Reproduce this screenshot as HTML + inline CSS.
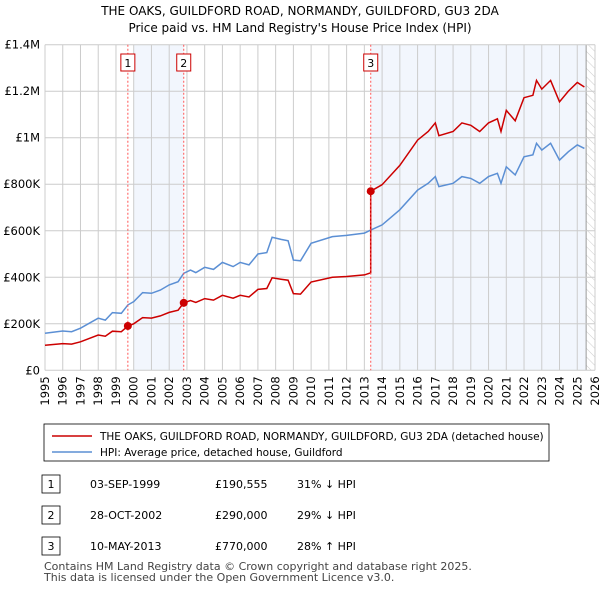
<!DOCTYPE html>
<html><head><meta charset="utf-8"><style>
body{margin:0;background:#fff;font-family:"Liberation Sans","DejaVu Sans",sans-serif;}
svg text{font-family:"DejaVu Sans","Liberation Sans",sans-serif;}
</style></head><body>
<svg id="c" width="600" height="590" xmlns="http://www.w3.org/2000/svg">
<defs><pattern id="hatch" width="6" height="6" patternUnits="userSpaceOnUse" patternTransform="rotate(-45)"><line x1="0" y1="0" x2="0" y2="6" stroke="#ccc" stroke-width="1"/></pattern></defs>
<text x="300" y="15" text-anchor="middle" font-size="12" fill="#000">THE OAKS, GUILDFORD ROAD, NORMANDY, GUILDFORD, GU3 2DA</text>
<text x="300" y="32" text-anchor="middle" font-size="12" fill="#000">Price paid vs. HM Land Registry's House Price Index (HPI)</text>
<g id="plot"></g>
<rect x="44" y="424" width="505" height="37" fill="#fff" stroke="#000" stroke-width="0.8"/>
<line x1="52" y1="436" x2="92" y2="436" stroke="#cc0000" stroke-width="1.5"/>
<text x="100" y="440" font-size="10.5">THE OAKS, GUILDFORD ROAD, NORMANDY, GUILDFORD, GU3 2DA (detached house)</text>
<line x1="52" y1="452" x2="92" y2="452" stroke="#5b8fd4" stroke-width="1.5"/>
<text x="100" y="456" font-size="10.5">HPI: Average price, detached house, Guildford</text>
<g font-size="11">
<rect x="42" y="475" width="18" height="18" fill="#fff" stroke="#000" stroke-width="0.8"/><text x="51" y="488" text-anchor="middle">1</text>
<text x="90" y="488">03-SEP-1999</text><text x="215" y="488">£190,555</text><text x="297" y="488">31% ↓ HPI</text>
<rect x="42" y="506" width="18" height="18" fill="#fff" stroke="#000" stroke-width="0.8"/><text x="51" y="519" text-anchor="middle">2</text>
<text x="90" y="519">28-OCT-2002</text><text x="215" y="519">£290,000</text><text x="297" y="519">29% ↓ HPI</text>
<rect x="42" y="537" width="18" height="18" fill="#fff" stroke="#000" stroke-width="0.8"/><text x="51" y="550" text-anchor="middle">3</text>
<text x="90" y="550">10-MAY-2013</text><text x="215" y="550">£770,000</text><text x="297" y="550">28% ↑ HPI</text>
</g>
<text x="44" y="570" font-size="11" fill="#444">Contains HM Land Registry data © Crown copyright and database right 2025.</text>
<text x="44" y="581" font-size="11" fill="#444">This data is licensed under the Open Government Licence v3.0.</text>
</svg>
<script>
const hpiYears=[1995,1996,1996.5,1997,1998,1998.4,1998.8,1999.3,1999.67,2000,2000.5,2001,2001.5,2002,2002.5,2002.82,2003.2,2003.5,2004,2004.5,2005,2005.6,2006,2006.5,2007,2007.5,2007.8,2008.3,2008.7,2009,2009.4,2010,2011.2,2012,2013,2013.36,2014,2015,2016,2016.6,2017,2017.2,2018,2018.5,2019,2019.5,2020,2020.5,2020.7,2021,2021.5,2022,2022.5,2022.7,2023,2023.5,2024,2024.5,2025,2025.4];
const hpiValues=[159000,169000,166000,181000,224000,216000,248000,245000,281000,295000,334000,331000,345000,367000,381000,417000,431000,420000,443000,434000,464000,446000,464000,453000,500000,506000,572000,563000,557000,474000,471000,546000,575000,580000,590000,603000,625000,690000,775000,804000,833000,790000,804000,833000,825000,804000,833000,847000,804000,875000,840000,918000,926000,976000,947000,976000,904000,940000,969000,954000];
const saleYears=[1999.67,2002.82,2013.36];
const salePrices=[190555,290000,770000];
const saleLabels=["1","2","3"];
const yTicks=[0,200000,400000,600000,800000,1000000,1200000,1400000];
const yTickLabels=["£0","£200K","£400K","£600K","£800K","£1M","£1.2M","£1.4M"];
const xTicks=[1995,1996,1997,1998,1999,2000,2001,2002,2003,2004,2005,2006,2007,2008,2009,2010,2011,2012,2013,2014,2015,2016,2017,2018,2019,2020,2021,2022,2023,2024,2025,2026];
const X0=45,X1=595,Y0=370.3,Y1=44.7;
const xs=y=>X0+(y-1995)/31*(X1-X0);
const ys=v=>Y0-v/1400000*(Y0-Y1);
const NS="http://www.w3.org/2000/svg";
const g=document.getElementById('plot');
function mk(t,a,p){const e=document.createElementNS(NS,t);for(const k in a)e.setAttribute(k,a[k]);(p||g).appendChild(e);return e;}
function hpiAt(t){for(let i=1;i<hpiYears.length;i++){if(t<=hpiYears[i]){const f=(t-hpiYears[i-1])/(hpiYears[i]-hpiYears[i-1]);return hpiValues[i-1]+f*(hpiValues[i]-hpiValues[i-1]);}}return hpiValues[hpiValues.length-1];}
let e;
e=mk('rect',{x:xs(2000),y:Y1,width:xs(saleYears[1])-xs(2000),height:Y0-Y1,fill:'#f2f6fd'});

e=mk('rect',{x:xs(saleYears[2]),y:Y1,width:xs(2025.5)-xs(saleYears[2]),height:Y0-Y1,fill:'#f2f6fd'});

e=mk('rect',{x:xs(2025.5),y:Y1,width:X1-xs(2025.5),height:Y0-Y1,fill:'url(#hatch)'});

mk('line',{x1:xs(2025.5),x2:xs(2025.5),y1:Y1,y2:Y0,stroke:'#999','stroke-width':1});
yTicks.forEach((v,i)=>{
 e=mk('line',{x1:X0,x2:X1,y1:ys(v),y2:ys(v),stroke:'#ccc','stroke-width':1});
 
 e=mk('text',{x:X0-5,y:ys(v)+4,'text-anchor':'end','font-size':11.5});e.textContent=yTickLabels[i];
 
});
xTicks.forEach(y=>{
 e=mk('line',{x1:xs(y),x2:xs(y),y1:Y1,y2:Y0,stroke:'#ccc','stroke-width':1});
 
 e=mk('text',{x:0,y:0,'font-size':11.5,'text-anchor':'end',transform:`translate(${xs(y)+4},${Y0+6}) rotate(-90)`});e.textContent=y;
 
});
e=mk('path',{d:hpiYears.map((t,i)=>(i?'L':'M')+xs(t).toFixed(1)+','+ys(hpiValues[i]).toFixed(1)).join(''),fill:'none',stroke:'#5b8fd4','stroke-width':1.5});

const ratios=saleYears.map((t,i)=>salePrices[i]/hpiAt(t));
let pts=[];
hpiYears.forEach((t,i)=>{
 let k=0;for(let j=0;j<saleYears.length;j++)if(t>=saleYears[j])k=j;
 if(k===2&&pts.length&&!pts.jumped){pts.push([saleYears[2],hpiAt(saleYears[2])*ratios[1]]);pts.push([saleYears[2],salePrices[2]]);pts.jumped=true;}
 pts.push([t,hpiValues[i]*ratios[k]]);
});
pts.sort((a,b)=>a[0]-b[0]);
e=mk('path',{d:pts.map((p,i)=>(i?'L':'M')+xs(p[0]).toFixed(1)+','+ys(p[1]).toFixed(1)).join(''),fill:'none',stroke:'#cc0000','stroke-width':1.5});

saleYears.forEach((t,i)=>{
 e=mk('line',{x1:xs(t),x2:xs(t),y1:Y1,y2:Y0,stroke:'#ff5555','stroke-width':1,'stroke-dasharray':'2,2'});
 
 e=mk('circle',{cx:xs(t),cy:ys(salePrices[i]),r:4,fill:'#cc0000'});
 
 e=mk('rect',{x:xs(t)-7,y:54,width:14,height:17,fill:'#fff',stroke:'#cc0000','stroke-width':1});
 
 e=mk('text',{x:xs(t),y:67,'text-anchor':'middle','font-size':11});e.textContent=saleLabels[i];
 
});
</script>
</body></html>
